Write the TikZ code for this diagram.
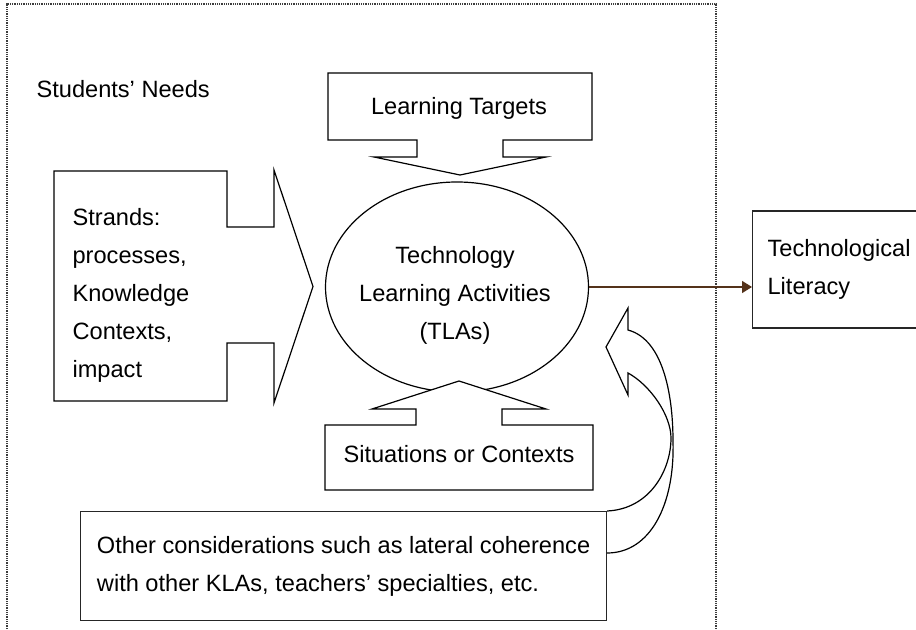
\documentclass[tikz,border=0pt]{standalone}
\usepackage{fontspec}
\setmainfont{Liberation Sans}
\usepackage{xcolor}
\usetikzlibrary{shapes.geometric,arrows.meta,calc}
\definecolor{arrowbrown}{RGB}{84,50,26}
\definecolor{framegray}{RGB}{60,60,60}

\begin{document}
\begin{tikzpicture}[x=0.5pt,y=-0.5pt,
  line width=0.6pt,
  txt/.style={font=\fontsize{11.8}{19}\selectfont, inner sep=0pt},
  callout/.style={draw=black, fill=white, line join=miter},
  plainbox/.style={draw=black!85, rectangle, txt, align=left}]
\useasboundingbox (0,0) rectangle (916,630);

% frame round the planning area
\draw[framegray, line width=0.6pt, dash pattern=on 0.5pt off 0.4pt] (7,640) -- (7,4) -- (716,4) -- (716,640);
\node[txt, anchor=base west] (needs) at (36,98) {Students’ Needs};

% centre
\node[ellipse, draw, minimum width=131.5pt, minimum height=105pt, inner sep=0pt] (tla) at (457,287) {};
\node[txt, align=center] (tlatext) at (455,295) {Technology\\Learning Activities\\(TLAs)};

% block arrows pointing to the centre
\draw[callout] (328,73) -- (592,73) -- (592,140) -- (503,140) -- (503,157) -- (546,157) -- (460,175)
  -- (374,157) -- (417,157) -- (417,140) -- (328,140) -- cycle;
\node[txt, anchor=base] (targets) at (459,115) {Learning Targets};

\draw[callout] (54,171) -- (227,171) -- (227,227) -- (274,227) -- (274,170) -- (313,286.5)
  -- (274,403) -- (274,343) -- (227,343) -- (227,401) -- (54,401) -- cycle;
\node[txt, align=left, anchor=west] (strands) at (72,295) {Strands:\\processes,\\Knowledge\\Contexts,\\impact};

\draw[callout] (325,425) -- (416,425) -- (416,409) -- (372,409) -- (459,381) -- (546,409)
  -- (502,409) -- (502,425) -- (593,425) -- (593,490) -- (325,490) -- cycle;
\node[txt, anchor=base] (contexts) at (459,463) {Situations or Contexts};

% outcome
\node[plainbox, anchor=west, minimum height=58.5pt, text width=85pt, inner xsep=7.5pt] (lit) at (752,269.5) {Technological\\Literacy};
\draw[arrowbrown, line width=0.7pt, -{Triangle[length=5pt,width=6pt]}] (tla.east) -- (tla.east -| lit.west);

% other considerations and curved arrow
\node[plainbox, anchor=north west, minimum width=263pt, minimum height=54.5pt] (other) at (80,511) {Other considerations such as lateral coherence\\with other KLAs, teachers’ specialties, etc.};
\draw[line join=miter] (other.north east) .. controls (650,509) and (671,470) .. (671,438)
  .. controls (671,415) and (650,385) .. (628,373) -- (628,395) -- (606,347) -- (628,308) -- (628,330)
  .. controls (665,340) and (673,400) .. (673,441) .. controls (675,505) and (650,553) .. ($(other.north east)+(0,42)$);
\end{tikzpicture}
\end{document}
